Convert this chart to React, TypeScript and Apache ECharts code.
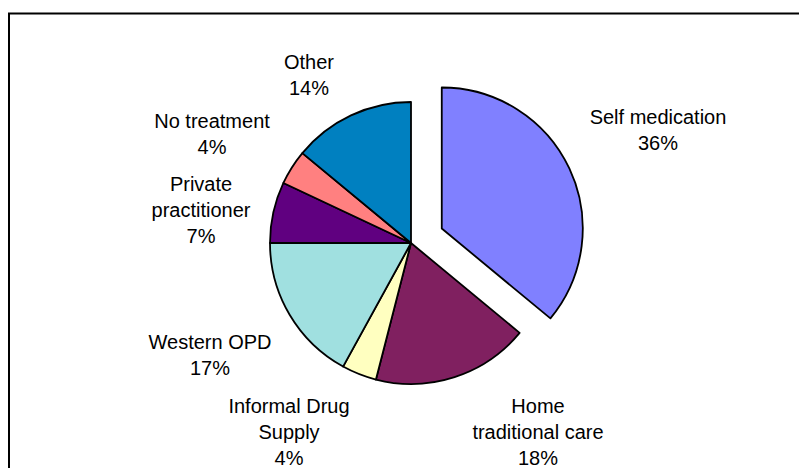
import React, { useEffect, useRef } from "react";
import * as echarts from "echarts";

const categories = [
  "Self medication",
  "Home traditional care",
  "Informal Drug Supply",
  "Western OPD",
  "Private practitioner",
  "No treatment",
  "Other",
];
const displayLabels = [
  "Self medication",
  "Home\ntraditional care",
  "Informal Drug\nSupply",
  "Western OPD",
  "Private\npractitioner",
  "No treatment",
  "Other",
];
const values = [36, 18, 4, 17, 7, 4, 14];
const colors = ["#8080FF", "#802060", "#FFFFC0", "#A0E0E0", "#600080", "#FF8080", "#0080C0"];
const explodedIndex = 0;
const labelPositions: [number, number][] = [
  [658, 130],
  [538, 432],
  [289, 432],
  [210, 355],
  [201, 210],
  [212, 134],
  [309, 75],
];

const CX = 411;
const CY = 243;
const R = 141;
const EXPLODE = 34;

export default function App() {
  const ref = useRef<HTMLDivElement>(null);
  useEffect(() => {
    if (!ref.current) return;
    const chart = echarts.init(ref.current, undefined, { renderer: "svg" });
    const total = values.reduce((a, b) => a + b, 0);
    let before = 0;
    for (let i = 0; i < explodedIndex; i++) before += values[i];
    const midFrac = (before + values[explodedIndex] / 2) / total;
    const ang = midFrac * 2 * Math.PI;
    const ex = CX + EXPLODE * Math.sin(ang);
    const ey = CY - EXPLODE * Math.cos(ang);

    const labelCommon = {
      show: true,
      position: "outside",
      color: "#000000",
      fontFamily: "Liberation Sans, Arial, sans-serif",
      fontSize: 20,
      lineHeight: 26,
      align: "center",
      formatter: (p: any) => `${displayLabels[p.dataIndex]}\n${values[p.dataIndex]}%`,
    };

    chart.setOption({
      animation: false,
      backgroundColor: "#ffffff",
      graphic: [
        {
          type: "rect",
          z: -10,
          shape: { x: 9, y: 13.5, width: 900, height: 600 },
          style: { fill: "none", stroke: "#000000", lineWidth: 2 },
          silent: true,
        },
      ],
      series: [
        {
          type: "pie",
          center: [CX, CY],
          radius: R,
          startAngle: 90,
          clockwise: true,
          selectedMode: false,
          avoidLabelOverlap: false,
          emphasis: { disabled: true },
          silent: true,
          itemStyle: { borderColor: "#000000", borderWidth: 1.8 },
          label: labelCommon,
          labelLine: { show: false },
          labelLayout: (params: any) => {
            const pos = labelPositions[params.dataIndex];
            return { x: pos[0], y: pos[1], align: "center", verticalAlign: "middle" };
          },
          data: categories.map((name, i) => ({
            name,
            value: values[i],
            itemStyle:
              i === explodedIndex
                ? { color: "transparent", borderWidth: 0, borderColor: "transparent" }
                : { color: colors[i] },
          })),
        },
        {
          type: "pie",
          center: [ex, ey],
          radius: R,
          startAngle: 90,
          clockwise: true,
          selectedMode: false,
          emphasis: { disabled: true },
          silent: true,
          label: { show: false },
          labelLine: { show: false },
          itemStyle: { borderColor: "#000000", borderWidth: 1.8 },
          data: categories.map((name, i) => ({
            name,
            value: values[i],
            itemStyle:
              i === explodedIndex
                ? { color: colors[i] }
                : { color: "transparent", borderWidth: 0, borderColor: "transparent" },
          })),
        },
      ],
    });
    return () => chart.dispose();
  }, []);
  return (
    <div
      ref={ref}
      style={{ position: "fixed", left: 0, top: 0, width: 799, height: 468 }}
    />
  );
}
